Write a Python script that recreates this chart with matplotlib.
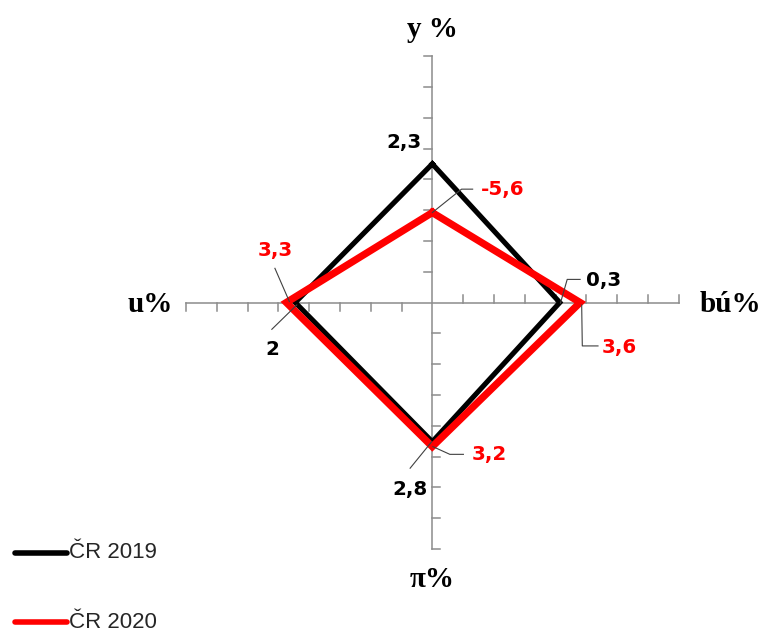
import matplotlib
matplotlib.use("Agg")
import matplotlib.pyplot as plt

# ── Data ──────────────────────────────────────────────────────────────────────
# axis order: up (y %), right (bú%), down (π%), left (u%)
axis_titles = ["y %", "bú%", "π%", "u%"]
series_names = ["ČR 2019", "ČR 2020"]
# plotted distance from the centre along each axis (tick units)
pos_2019 = [4.5, 4.14, 4.52, 4.45]
pos_2020 = [2.92, 4.8, 4.68, 4.74]
# value labels shown next to the vertices
labels_2019 = ["2,3", "0,3", "2,8", "2"]
labels_2020 = ["-5,6", "3,6", "3,2", "3,3"]
n_ticks = 8

# ── Layout (pixel scale: centre at 432,302; one tick = 30.8 px) ───────────────
W, H = 765, 635
cx, cy, unit = 432.3, 302.5, 30.8

fig = plt.figure(figsize=(W / 100, H / 100), dpi=100)
ax = fig.add_axes([0, 0, 1, 1])
ax.set_xlim(-cx / unit, (W - cx) / unit)
ax.set_ylim((cy - H) / unit, cy / unit)
ax.axis("off")

# ── Axes cross with ticks (each arm has ticks on its own side) ────────────────
axis_col = "#8c8c8c"
tl = 8 / unit
ax.plot([-n_ticks, n_ticks], [0, 0], color=axis_col, lw=1.1, zorder=1)
ax.plot([0, 0], [-n_ticks, n_ticks], color=axis_col, lw=1.1, zorder=1)
for i in range(1, n_ticks + 1):
    ax.plot([-tl, 0], [i, i], color=axis_col, lw=1.1, zorder=1)     # up
    ax.plot([i, i], [0, tl], color=axis_col, lw=1.1, zorder=1)      # right
    ax.plot([0, tl], [-i, -i], color=axis_col, lw=1.1, zorder=1)    # down
    ax.plot([-i, -i], [-tl, 0], color=axis_col, lw=1.1, zorder=1)   # left


def quad(p):
    xs = [0, p[1], 0, -p[3], 0]
    ys = [p[0], 0, -p[2], 0, p[0]]
    return xs, ys


x19, y19 = quad(pos_2019)
x20, y20 = quad(pos_2020)
ax.plot(x19, y19, color="black", lw=3.7, solid_joinstyle="miter", zorder=3)
ax.plot(x20, y20, color="#ff0000", lw=5.2, solid_joinstyle="miter", zorder=4)

# ── Axis titles ───────────────────────────────────────────────────────────────
tfont = dict(family="Liberation Serif", fontweight="bold", fontsize=21,
             ha="center", va="center")
ax.text(0, 8.85, axis_titles[0], **tfont)
ax.text(9.67, -0.05, axis_titles[1], **tfont)
ax.text(0, -9.0, axis_titles[2], **tfont)
ax.text(-9.17, -0.05, axis_titles[3], **tfont)

# ── Value labels with leader lines ────────────────────────────────────────────
lead = dict(color="#404040", lw=0.8, zorder=5)
lfont = dict(family="DejaVu Sans", fontweight="bold", fontsize=14.3, va="center")

# 2019
ax.text(-0.92, 5.18, labels_2019[0], ha="center", color="black", **lfont)
ax.plot([pos_2019[1] + 0.02, 4.38, 4.80], [-0.02, 0.75, 0.75], **lead)
ax.text(5.0, 0.72, labels_2019[1], ha="left", color="black", **lfont)
ax.plot([-0.72, -0.02], [-5.38, -pos_2019[2]], **lead)
ax.text(-0.72, -6.06, labels_2019[2], ha="center", color="black", **lfont)
ax.plot([-5.21, -pos_2019[3] + 0.05], [-0.87, -0.08], **lead)
ax.text(-5.18, -1.54, labels_2019[3], ha="center", color="black", **lfont)

# 2020
ax.plot([0, 0.95, 1.31], [pos_2020[0], 3.68, 3.68], **lead)
ax.text(1.58, 3.66, labels_2020[0], ha="left", color="#ff0000", **lfont)
ax.plot([pos_2020[1] + 0.05, 4.87, 5.38], [-0.08, -1.41, -1.41], **lead)
ax.text(5.5, -1.46, labels_2020[1], ha="left", color="#ff0000", **lfont)
ax.plot([0.02, 0.57, 1.01], [-pos_2020[2], -4.93, -4.93], **lead)
ax.text(1.28, -4.95, labels_2020[2], ha="left", color="#ff0000", **lfont)
ax.plot([-5.11, -pos_2020[3] + 0.1], [1.11, 0.03], **lead)
ax.text(-5.11, 1.70, labels_2020[3], ha="center", color="#ff0000", **lfont)

# ── Legend (drawn by hand at bottom left) ─────────────────────────────────────
for name, col, py in [(series_names[0], "black", 553), (series_names[1], "#ff0000", 622)]:
    yy = (cy - py) / unit
    ax.plot([(15 - cx) / unit, (67 - cx) / unit], [yy, yy], color=col, lw=4,
            solid_capstyle="round", clip_on=False)
    ax.text((69 - cx) / unit, yy, name, family="Liberation Sans", fontsize=16,
            ha="left", va="center", color="#262626")

fig.savefig("out.png", dpi=100)
